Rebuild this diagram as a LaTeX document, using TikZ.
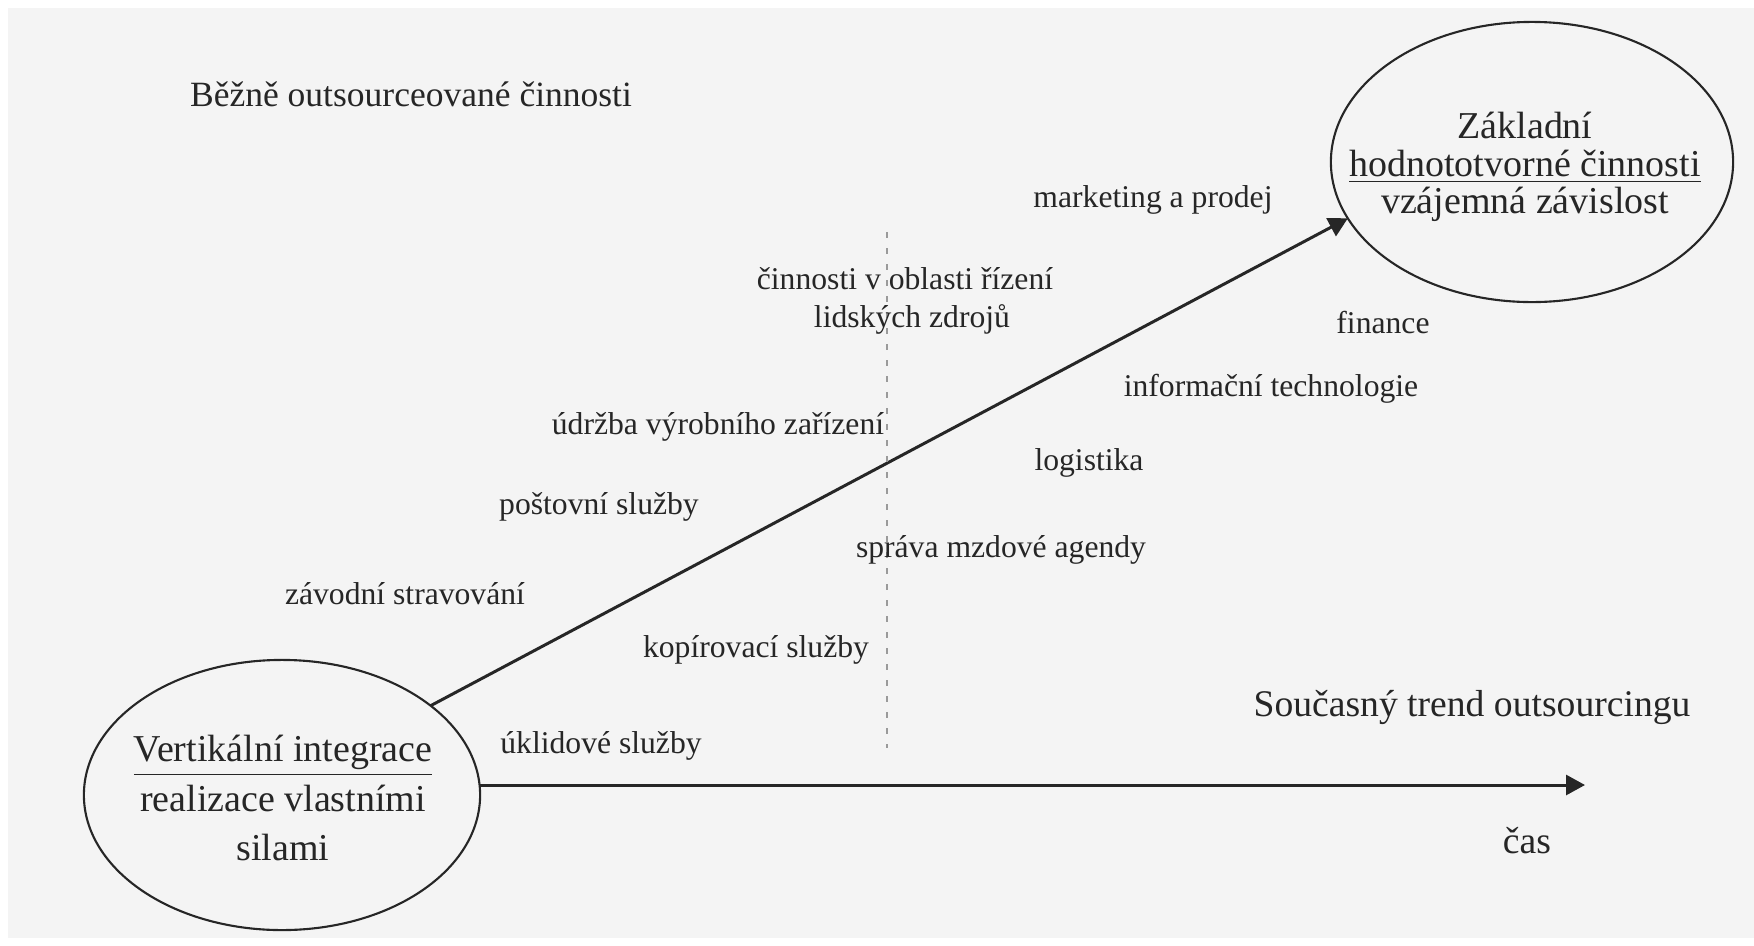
\documentclass[tikz,border=0pt]{standalone}
\usepackage{fontspec}
\setmainfont{Liberation Serif}
\usetikzlibrary{arrows.meta,shapes.geometric}
\definecolor{ink}{HTML}{262626}
\definecolor{page}{HTML}{F4F4F4}
\definecolor{dotgray}{HTML}{9A9A9A}
\begin{document}
\begin{tikzpicture}[x=0.01cm,y=-0.01cm,
  oval/.style={draw=ink, line width=0.6pt, ellipse, inner sep=0pt, outer sep=0pt},
  lbl/.style={text=ink, font=\fontsize{9}{10}\selectfont, inner sep=0pt},
  big/.style={text=ink, font=\fontsize{10.7}{12}\selectfont, inner sep=0pt},
  conn/.style={draw=ink, line width=0.85pt, -{Triangle[length=0.19cm,width=0.2cm]}},
  guide/.style={draw=dotgray, line width=0.5pt, dash pattern=on 0.06cm off 0.1cm}]
\useasboundingbox (0,0) rectangle (1754,945);
\fill[white] (0,0) rectangle (1754,945);
\fill[page] (8,8) rectangle (1754,938);

% ellipses
\node[oval, minimum width=3.96cm, minimum height=2.7cm] (vi) at (282,795) {};
\node[oval, minimum width=4.02cm, minimum height=2.8cm] (zc) at (1532,162) {};

% ellipse texts
\node[big, align=center, font=\fontsize{10.8}{14.2}\selectfont] (vitext) at (283,798)
  {\underline{Vertikální integrace}\\realizace vlastními\\silami};
\node[big, align=center, font=\fontsize{10.8}{10.7}\selectfont] (zctext) at (1525,167)
  {Základní\\\underline{hodnototvorné činnosti}\\vzájemná závislost};

% connectors
\draw[conn] (vi.31.5) -- (zc.197.1);
\coordinate (tend) at (1585,785);
\draw[conn] (vi.east |- tend) -- (tend);

% dotted divider
\coordinate (dtop) at (887,232);
\coordinate (dbot) at (887,748);
\draw[guide] (dtop) -- (dbot);

% headings
\node[big, font=\fontsize{10.1}{12}\selectfont] (bezne) at (411,94) {Běžně outsourceované činnosti};
\node[big] (trend) at (1472,707) {Současný trend outsourcingu};
\node[big] (cas) at (1527,841) {čas};

% activities
\node[lbl] (mark) at (1153,200) {marketing a prodej};
\node[lbl] (rlz1) at (905,279) {činnosti v oblasti řízení};
\node[lbl] (rlz2) at (912,319) {lidských zdrojů};
\node[lbl] (fin) at (1383,323) {finance};
\node[lbl] (it) at (1271,389) {informační technologie};
\node[lbl] (udr) at (718,427) {údržba výrobního zařízení};
\node[lbl] (log) at (1089,463) {logistika};
\node[lbl] (post) at (599,507) {poštovní služby};
\node[lbl] (mzdy) at (1001,550) {správa mzdové agendy};
\node[lbl] (strav) at (405,594) {závodní stravování};
\node[lbl] (kop) at (756,650) {kopírovací služby};
\node[lbl] (ukl) at (601,746) {úklidové služby};
\end{tikzpicture}
\end{document}
